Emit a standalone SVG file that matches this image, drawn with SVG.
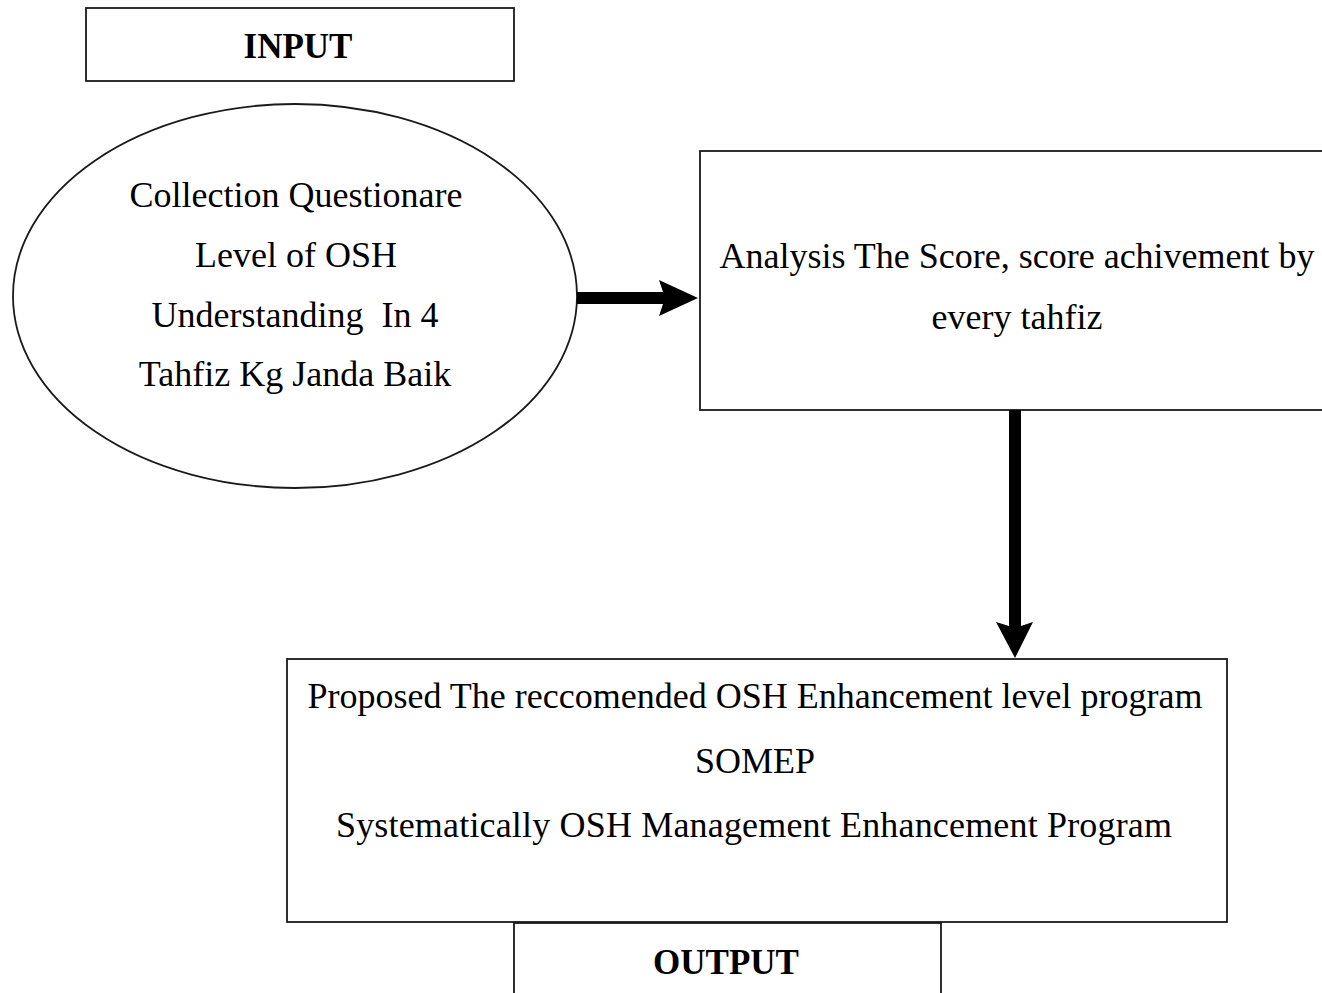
<svg xmlns="http://www.w3.org/2000/svg" width="1322" height="993" viewBox="0 0 1322 993">
<style>
.box{fill:#fff;stroke:#1a1a1a;stroke-width:1.8}
.t{font-family:"Liberation Serif","Times New Roman",serif;font-size:36px;fill:#000;text-anchor:middle;white-space:pre}
.b{font-family:"Liberation Serif","Times New Roman",serif;font-size:35px;font-weight:bold;fill:#000;text-anchor:middle}
.arr{fill:#000}
</style>
<rect width="1322" height="993" fill="#fff"/>
<g id="input-label">
<rect class="box" x="86" y="8" width="428" height="73"/>
<text class="b" x="298" y="58">INPUT</text>
</g>
<g id="collection">
<ellipse class="box" cx="295" cy="296" rx="282" ry="192"/>
<text class="t" x="296" y="207">Collection Questionare</text>
<text class="t" x="296" y="267">Level of OSH</text>
<text class="t" x="295" y="327" xml:space="preserve">Understanding  In 4</text>
<text class="t" x="295" y="386">Tahfiz Kg Janda Baik</text>
</g>
<g id="analysis">
<rect class="box" x="700" y="151" width="640" height="259"/>
<text class="t" x="1017" y="268">Analysis The Score, score achivement by</text>
<text class="t" x="1017" y="329">every tahfiz</text>
</g>
<g id="proposed">
<rect class="box" x="287" y="659" width="940" height="263"/>
<text class="t" x="755" y="708">Proposed The reccomended OSH Enhancement level program</text>
<text class="t" x="755" y="773">SOMEP</text>
<text class="t" x="754" y="837" textLength="836">Systematically OSH Management Enhancement Program</text>
</g>
<g id="output-label">
<rect class="box" x="514" y="923" width="427" height="100"/>
<text class="b" x="726" y="974">OUTPUT</text>
</g>
<g id="connectors">
<polygon class="arr" points="577,292 663,292 659,280 698,298 659,316 663,304 577,304"/>
<polygon class="arr" points="1009,410 1021,410 1021,626 1033,622 1015,658 996,622 1009,626"/>
</g>
</svg>
